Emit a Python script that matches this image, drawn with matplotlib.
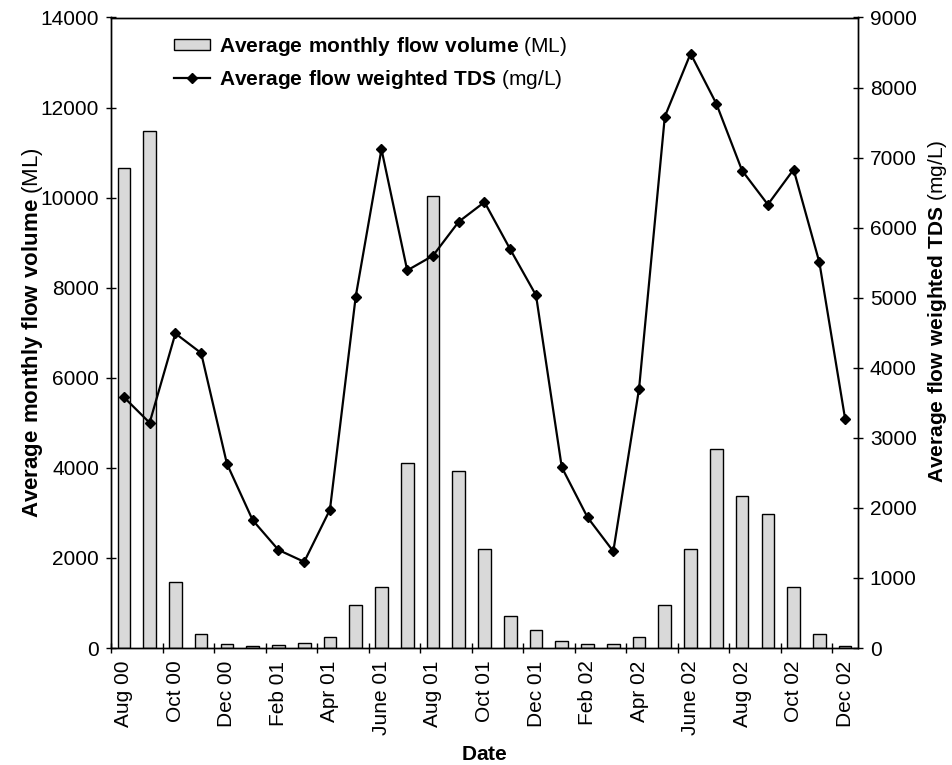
import matplotlib.pyplot as plt
import numpy as np

plt.rcParams['font.family'] = ['Liberation Sans', 'DejaVu Sans']
plt.rcParams['mathtext.fontset'] = 'custom'
plt.rcParams['mathtext.rm'] = 'Liberation Sans'
plt.rcParams['mathtext.bf'] = 'Liberation Sans:bold'

months = ["Aug 00", "Sep 00", "Oct 00", "Nov 00", "Dec 00", "Jan 01", "Feb 01", "Mar 01",
          "Apr 01", "May 01", "June 01", "Jul 01", "Aug 01", "Sep 01", "Oct 01", "Nov 01",
          "Dec 01", "Jan 02", "Feb 02", "Mar 02", "Apr 02", "May 02", "June 02", "Jul 02",
          "Aug 02", "Sep 02", "Oct 02", "Nov 02", "Dec 02"]
flow = [10660, 11480, 1470, 300, 80, 50, 70, 100,
        250, 950, 1360, 4100, 10040, 3920, 2200, 710,
        400, 160, 80, 80, 250, 950, 2200, 4420,
        3370, 2970, 1360, 310, 50]
tds = [3580, 3215, 4490, 4210, 2630, 1825, 1400, 1230,
       1975, 5015, 7120, 5390, 5600, 6085, 6365, 5690,
       5035, 2580, 1865, 1380, 3700, 7585, 8485, 7770,
       6815, 6330, 6830, 5505, 3270]

x = np.arange(len(months))
fs = 15

fig = plt.figure(figsize=(9.52, 7.65), dpi=100)
ax = fig.add_axes([111/952, 1 - 648/765, (858-111)/952, (648-17.5)/765])
ax2 = ax.twinx()

bars = ax.bar(x, flow, width=0.49, color='#d9d9d9', edgecolor='black', linewidth=1.0, zorder=2)
line, = ax2.plot(x, tds, color='black', marker='D', markersize=5.5, linewidth=1.6, zorder=3)

ax.set_xlim(-0.5, len(months) - 0.5)
ax.set_ylim(0, 14000)
ax2.set_ylim(0, 9000)
ax.set_yticks(range(0, 14001, 2000))
ax2.set_yticks(range(0, 9001, 1000))

ax.set_xticks(x[::2])
ax.set_xticklabels(months[::2], rotation=90, fontsize=fs)
ax.set_xticks(np.arange(-0.5, len(months), 2), minor=True)
ax.tick_params(axis='x', which='major', length=0, pad=9)
ax.tick_params(axis='x', which='minor', length=7, direction='inout', width=1)
ax.tick_params(axis='y', length=7, direction='inout', width=1, labelsize=fs, pad=5)
ax2.tick_params(axis='y', length=7, direction='inout', width=1, labelsize=fs, pad=5)

for a in (ax, ax2):
    for s in a.spines.values():
        s.set_linewidth(1.0)

ax.set_xlabel(r'$\bf{Date}$', fontsize=fs, labelpad=7)
ax.set_ylabel(r'$\bf{Average\ monthly\ flow\ volume}$ (ML)', fontsize=16, labelpad=-3)
ax2.set_ylabel(r'$\bf{Average\ flow\ weighted\ TDS}$ (mg/L)', fontsize=fs)
ax2.yaxis.set_label_coords(1.091, 0.534)

ax.set_zorder(ax2.get_zorder() - 1)
ax2.patch.set_visible(False)
ax.patch.set_visible(True)

leg = ax2.legend([bars, line],
                 [r'$\bf{Average\ monthly\ flow\ volume}$ (ML)',
                  r'$\bf{Average\ flow\ weighted\ TDS}$ (mg/L)'],
                 loc='upper left', bbox_to_anchor=(0.073, 0.985), frameon=False,
                 fontsize=fs, handlelength=1.75, handleheight=0.45, handletextpad=0.4,
                 labelspacing=0.45, borderaxespad=0)

fig.savefig('out.png', dpi=100)
